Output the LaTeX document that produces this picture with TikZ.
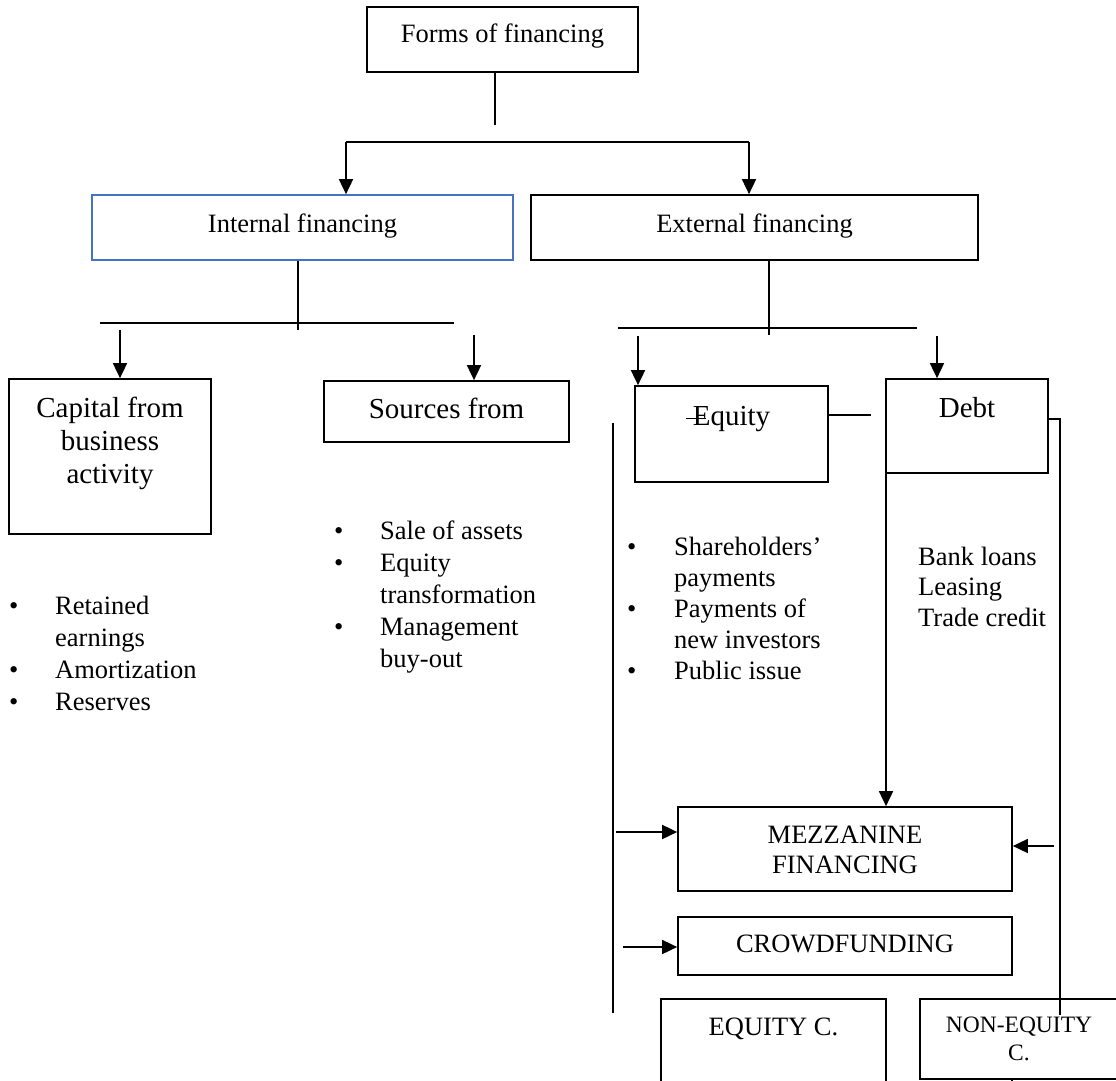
\documentclass[tikz,border=0pt]{standalone}
\usepackage{fontspec}
\setmainfont{Liberation Serif}
\usepackage{tikz}
\usetikzlibrary{arrows.meta}
\definecolor{ffBlue}{HTML}{4472C4}
\newcommand{\txtmain}{\fontsize{26.5}{32}\selectfont}
\newcommand{\txtbig}{\fontsize{29}{33}\selectfont}
\newcommand{\txtsmall}{\fontsize{23.5}{28}\selectfont}

\begin{document}
\begin{tikzpicture}[x=1pt, y=-1pt,
    conn/.style={line width=1.7pt, black},
    arr/.style={conn, -{Triangle[length=15pt,width=14pt]}},
    box/.style={draw, line width=1.7pt, inner sep=0pt, anchor=base, font=\txtmain},
    blist/.style={inner sep=0pt, anchor=base west, font=\txtmain}
  ]
  \useasboundingbox (0,0) rectangle (1116,1081);

  % boxes
  \node[box, minimum width=271pt, text height=36pt, text depth=29pt] (forms) at (502.5,43) {Forms of financing};
  \node[box, draw=ffBlue, minimum width=421pt, text height=37pt, text depth=28pt] (int) at (302.5,232) {Internal financing};
  \node[box, minimum width=447pt, text height=37pt, text depth=28pt] (ext) at (754.5,232) {External financing};
  \node[box, font=\txtbig, minimum width=202pt, text height=38pt, text depth=117pt] (cap) at (110,417)
    {\begin{tabular}[t]{@{}c@{}}Capital from\\ business\\ activity\end{tabular}};
  \node[box, font=\txtbig, minimum width=245pt, text height=37pt, text depth=24pt] (src) at (446.5,418) {Sources from};
  \node[box, font=\txtbig, minimum width=193pt, text height=39pt, text depth=57pt] (eq) at (731.5,425) {Equity};
  \node[box, font=\txtbig, minimum width=162pt, text height=38pt, text depth=56pt] (debt) at (967,417) {Debt};
  \node[box, font=\fontsize{26.5}{30}\selectfont, minimum width=334pt, text height=36pt, text depth=48pt] (mezz) at (845,843)
    {\begin{tabular}[t]{@{}c@{}}MEZZANINE\\ FINANCING\end{tabular}};
  \node[box, minimum width=334pt, text height=35pt, text depth=23pt] (crowd) at (845,952) {CROWDFUNDING};
  \node[box, minimum width=225pt, text height=36pt, text depth=60pt] (eqc) at (773.5,1035) {EQUITY C.};
  \node[box, font=\txtsmall, minimum width=198pt, text height=33pt, text depth=47pt] (noneq) at (1019,1032)
    {\begin{tabular}[t]{@{}c@{}}NON-EQUITY\\ C.\end{tabular}};

  % lists
  \node[blist] (intlist) at (9,614)
    {\begin{tabular}[t]{@{}p{46pt}@{}l@{}}\textbullet & Retained\\ & earnings\\ \textbullet & Amortization\\ \textbullet & Reserves\end{tabular}};
  \node[blist] (srclist) at (334,539)
    {\begin{tabular}[t]{@{}p{46pt}@{}l@{}}\textbullet & Sale of assets\\ \textbullet & Equity\\ & transformation\\ \textbullet & Management\\ & buy-out\end{tabular}};
  \node[blist, font=\fontsize{26.5}{31}\selectfont] (eqlist) at (627,555)
    {\begin{tabular}[t]{@{}p{47pt}@{}l@{}}\textbullet & Shareholders’\\ & payments\\ \textbullet & Payments of\\ & new investors\\ \textbullet & Public issue\end{tabular}};
  \node[blist, font=\fontsize{26.5}{30.5}\selectfont] (debtlist) at (918,565)
    {\begin{tabular}[t]{@{}l@{}}Bank loans\\ Leasing\\ Trade credit\end{tabular}};

  % stray stroke over the E
  \draw[line width=1pt] ([xshift=-46pt,yshift=7pt]eq.base) -- ++(20,0);

  % top level
  \coordinate (formsdrop) at (495,125);
  \coordinate (topL) at (346,142);
  \coordinate (topR) at (749,142);
  \draw[conn] (formsdrop |- forms.south) -- (formsdrop);
  \draw[conn] (topL) -- (topR);
  \draw[arr] (topL) -- (topL |- int.north);
  \draw[arr] (topR) -- (topR |- ext.north);

  % internal branch
  \coordinate (intdrop) at (298,330);
  \coordinate (intL) at (100,323);
  \coordinate (intR) at (454,323);
  \coordinate (capin) at (120,330);
  \coordinate (srcin) at (474,335);
  \draw[conn] (intdrop |- int.south) -- (intdrop);
  \draw[conn] (intL) -- (intR);
  \draw[arr] (capin) -- (capin |- cap.north);
  \draw[arr] (srcin) -- (srcin |- src.north);

  % external branch
  \coordinate (extdrop) at (769,335);
  \coordinate (extL) at (618,328);
  \coordinate (extR) at (917,328);
  \coordinate (eqin) at (638,336);
  \coordinate (debtin) at (937,336);
  \draw[conn] (extdrop |- ext.south) -- (extdrop);
  \draw[conn] (extL) -- (extR);
  \draw[arr] (eqin) -- (eqin |- eq.north);
  \draw[arr] (debtin) -- (debtin |- debt.north);

  % side lines
  \coordinate (eqlink) at (871,415);
  \coordinate (debtR) at (1060,419);
  \coordinate (debtRend) at (1060,1015);
  \coordinate (debtL) at (886,453);
  \coordinate (eqtop) at (613,423);
  \coordinate (eqbot) at (613,1013);
  \draw[conn] (eqlink -| eq.east) -- (eqlink);
  \draw[conn] (debtR -| debt.east) -- (debtR) -- (debtRend);
  \draw[arr] (debtL) -- (debtL |- mezz.north);
  \draw[conn] (eqtop) -- (eqbot);

  % into mezzanine and crowdfunding
  \coordinate (mezzinL) at (616,832);
  \coordinate (mezzinR) at (1054,846);
  \coordinate (crowdin) at (623,947);
  \coordinate (nonstub) at (1012,1081);
  \draw[arr] (mezzinL) -- (mezzinL -| mezz.west);
  \draw[arr] (mezzinR) -- (mezzinR -| mezz.east);
  \draw[arr] (crowdin) -- (crowdin -| crowd.west);
  \draw[conn] (nonstub |- noneq.south) -- (nonstub);
\end{tikzpicture}
\end{document}
